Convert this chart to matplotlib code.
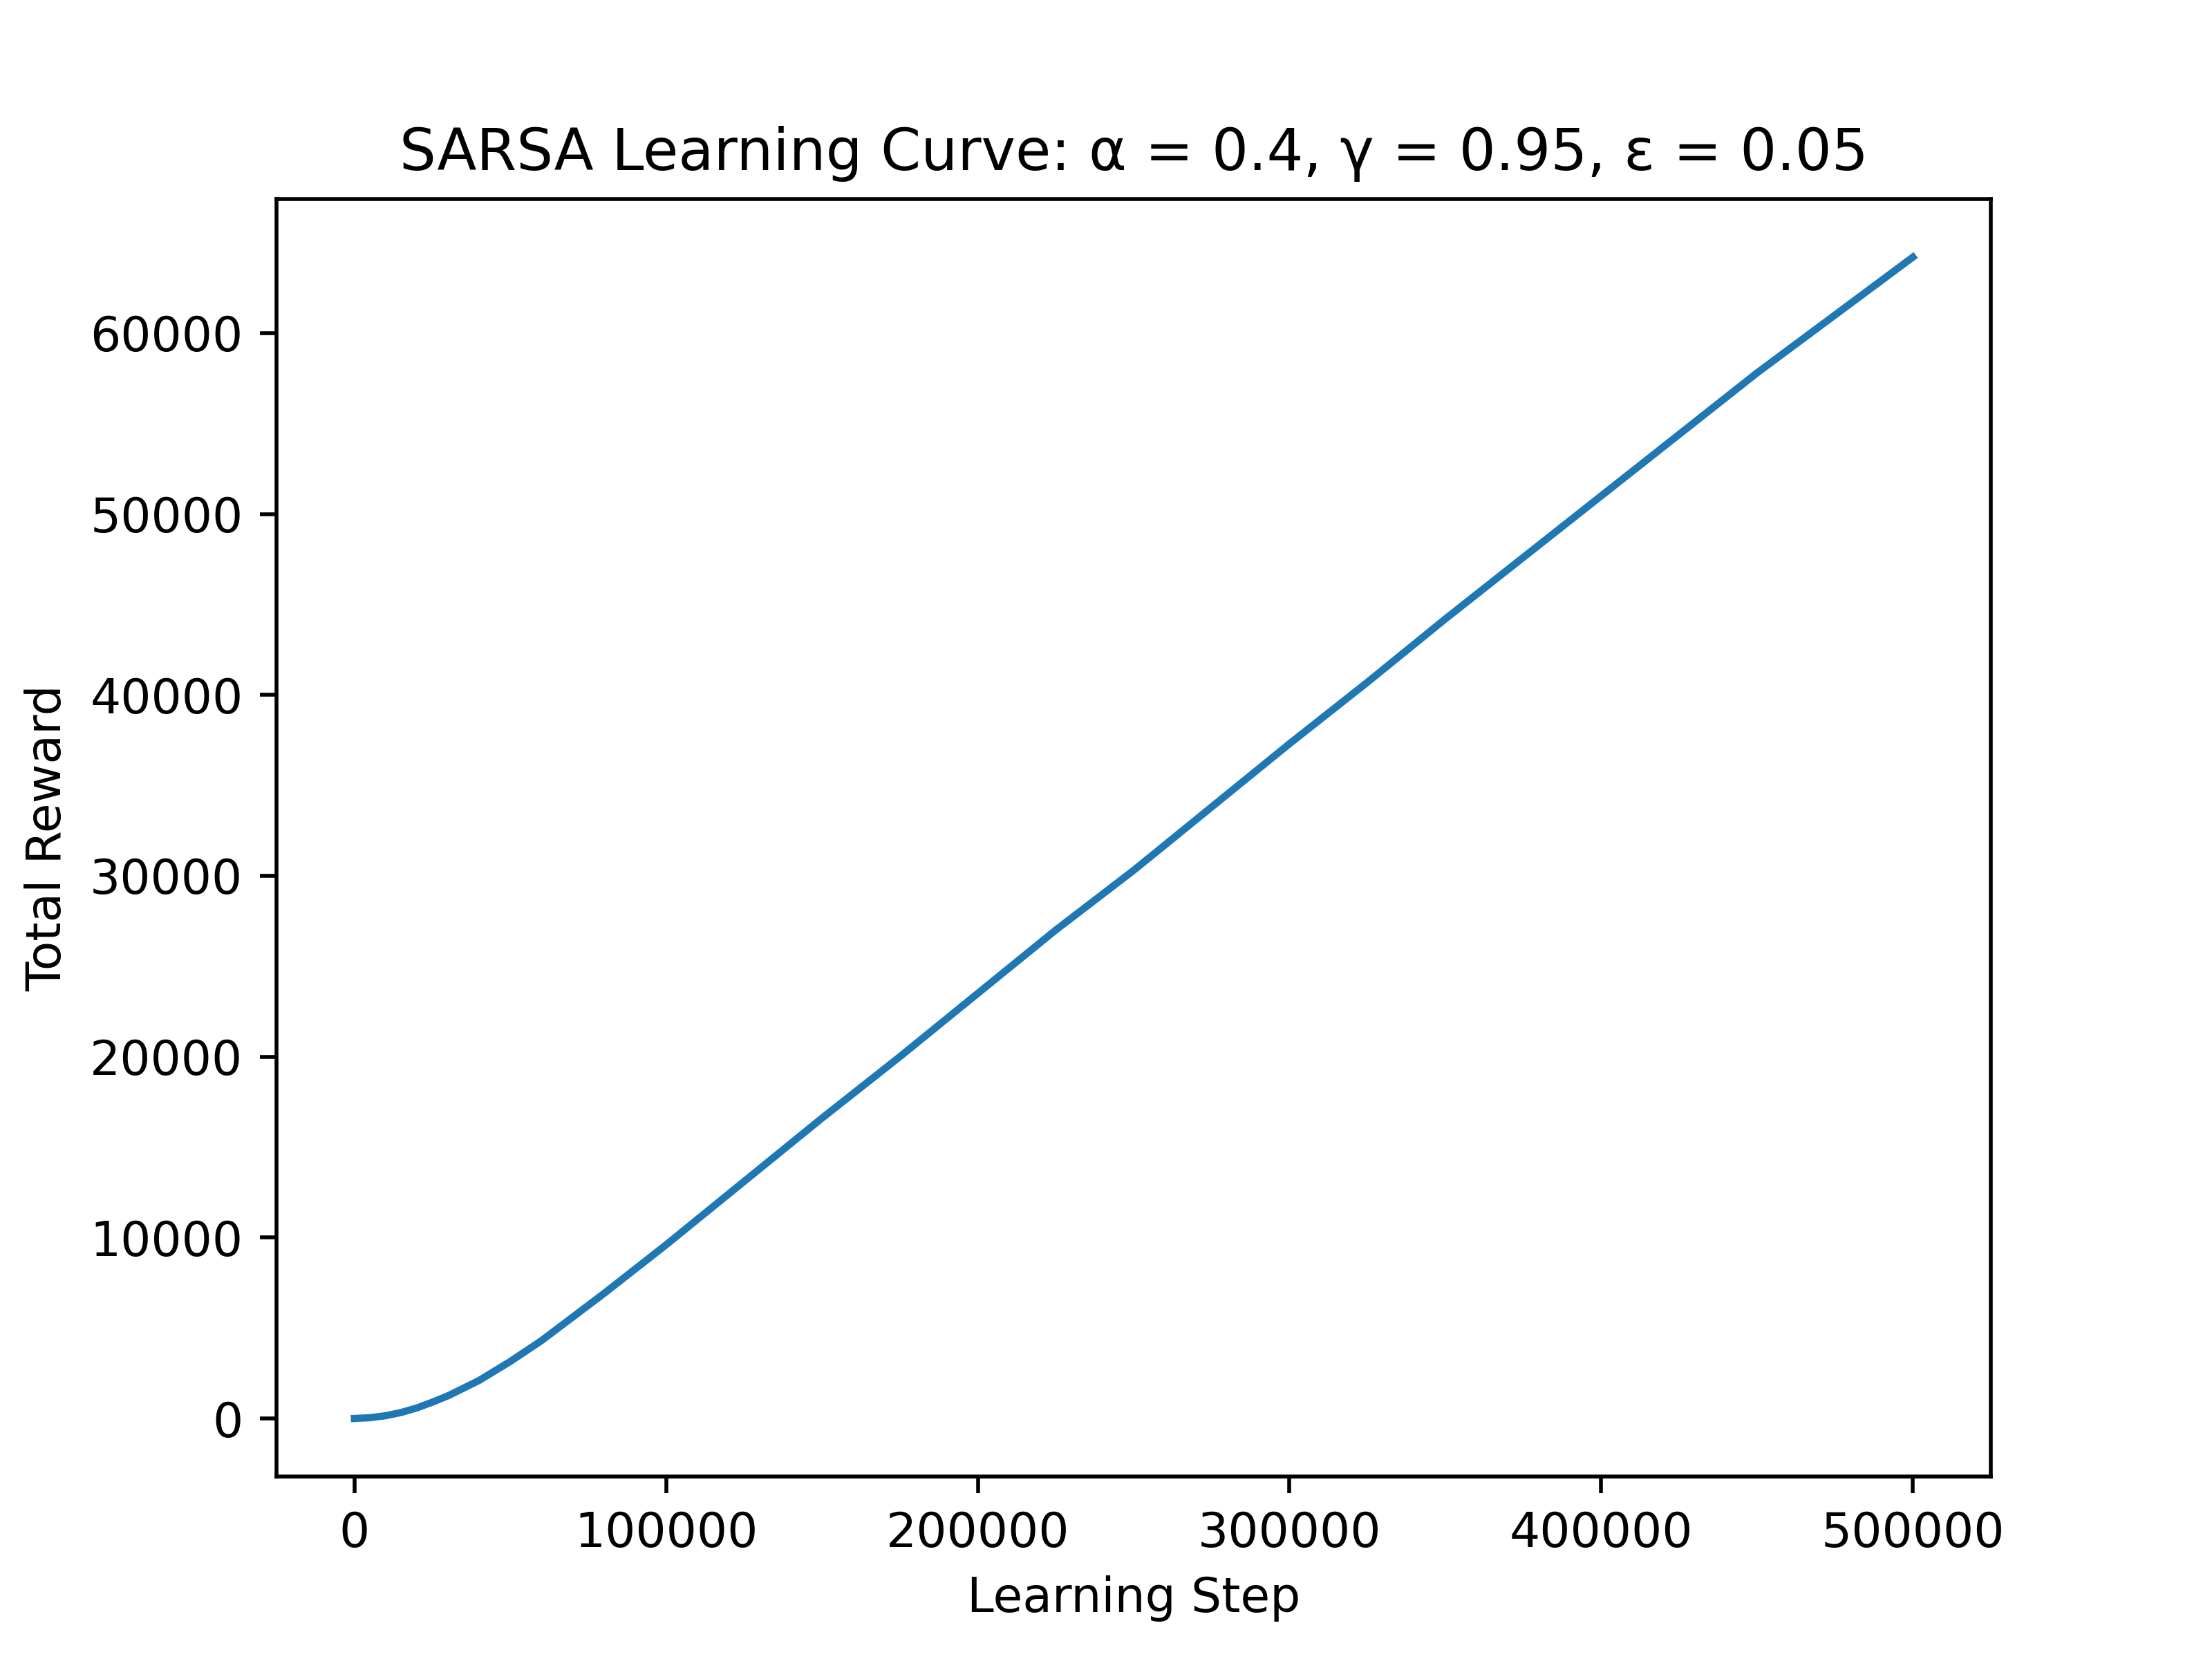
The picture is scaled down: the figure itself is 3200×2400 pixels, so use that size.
import matplotlib
matplotlib.use("Agg")
import matplotlib.pyplot as plt

steps = [0, 5000, 10000, 15000, 20000, 25000, 30000, 40000, 50000, 60000, 70000, 80000, 100000,
         125000, 150000, 175000, 200000, 225000, 250000, 275000, 300000, 325000, 350000,
         375000, 400000, 425000, 450000, 475000, 500000]
reward = [0, 40, 150, 330, 580, 900, 1250, 2100, 3150, 4300, 5600, 6900, 9600,
          13100, 16600, 20000, 23500, 27000, 30300, 33800, 37300, 40700, 44200,
          47600, 51000, 54400, 57800, 61000, 64200]

fig, ax = plt.subplots(figsize=(6.4, 4.8), dpi=500)
ax.plot(steps, reward)
ax.set_title("SARSA Learning Curve: α = 0.4, γ = 0.95, ε = 0.05")
ax.set_xlabel("Learning Step")
ax.set_ylabel("Total Reward")
fig.savefig("out.png")
